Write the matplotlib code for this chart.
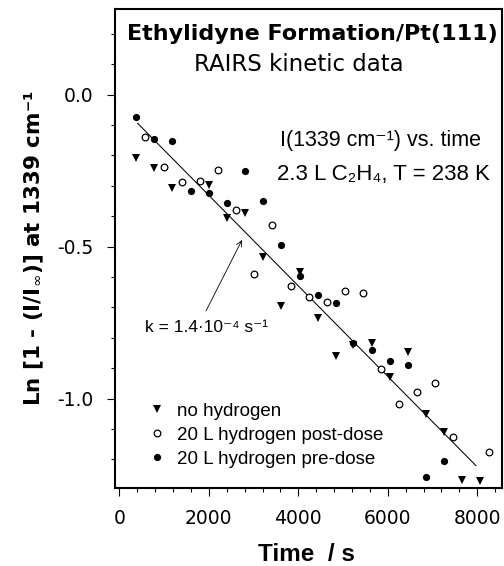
import numpy as np
import matplotlib
matplotlib.use("Agg")
import matplotlib.pyplot as plt

# data (time in s, Ln[1 - I/Iinf])
no_h_t = [366, 776, 1185, 1997, 2407, 2809, 3211, 3620, 4031, 4433,
          4836, 5229, 5640, 6042, 6445, 6847, 7249, 7665, 8067]
no_h_v = [-0.209, -0.242, -0.306, -0.297, -0.407, -0.390, -0.533, -0.694, -0.582, -0.736,
          -0.859, -0.823, -0.818, -0.930, -0.847, -1.050, -1.109, -1.267, -1.271]

post_t = [574, 992, 1394, 1803, 2206, 2615, 3010, 3419, 3830, 4239,
          4648, 5044, 5446, 5848, 6250, 6652, 7062, 7457, 8268]
post_v = [-0.139, -0.238, -0.288, -0.284, -0.249, -0.378, -0.590, -0.429, -0.629, -0.664,
          -0.683, -0.646, -0.652, -0.901, -1.018, -0.978, -0.948, -1.125, -1.175]

pre_t = [366, 776, 1185, 1595, 1997, 2407, 2809, 3211, 3620, 4031,
         4433, 4836, 5229, 5640, 6042, 6445, 6847, 7249]
pre_v = [-0.072, -0.146, -0.152, -0.317, -0.322, -0.356, -0.252, -0.349, -0.495, -0.596,
         -0.660, -0.684, -0.818, -0.840, -0.877, -0.890, -1.259, -1.206]

# linear fit shown in the figure
fit_slope = -1.49e-4
fit_intercept = -0.033
fit_range = [410, 7970]

W, H = 504, 566
ARIAL = ['Liberation Sans', 'DejaVu Sans']


def px(x, y):
    # pixel position -> figure fraction
    return x / W, 1 - y / H


fig = plt.figure(figsize=(W / 100, H / 100), dpi=100)
ax = fig.add_axes([114.7 / W, 1 - 488 / H, (502 - 114.7) / W, (488 - 9.3) / H])

ax.plot(no_h_t, no_h_v, 'v', color='k', ms=6, mew=0, label='no hydrogen', zorder=3)
ax.plot(post_t, post_v, 'o', mfc='white', mec='k', ms=4.8, mew=0.9,
        label='20 L hydrogen post-dose', zorder=3)
ax.plot(pre_t, pre_v, 'o', color='k', ms=5.2, mew=0, label='20 L hydrogen pre-dose', zorder=4)

tf = np.array(fit_range)
ax.plot(tf, fit_intercept + fit_slope * tf, 'k-', lw=0.75, zorder=2)

ax.annotate('', xy=(2742, -0.478), xytext=(1937, -0.7115),
            arrowprops=dict(arrowstyle='->', lw=0.6, color='k',
                            mutation_scale=10, shrinkA=0, shrinkB=0))

ax.set_xlim(-103, 8552)
ax.set_ylim(-1.294, 0.281)
ax.set_xticks([0, 2000, 4000, 6000, 8000])
ax.set_xticks(np.arange(0, 8500, 400), minor=True)
ax.set_yticks([-1.0, -0.5, 0.0])
ax.set_yticks(np.arange(-1.2, 0.25, 0.1), minor=True)
ax.set_yticklabels(['-1.0', '-0.5', '0.0'])

for s in ax.spines.values():
    s.set_linewidth(1.5)
ax.tick_params(which='both', direction='out', top=False, right=False,
               width=0.8, labelsize=13.5, pad=9.5)
ax.tick_params(which='major', length=5.5)
ax.tick_params(which='minor', length=3)

ax.set_xlabel('Time  / s', fontsize=17.5, fontweight='bold', family=ARIAL)
ax.xaxis.set_label_coords(0.496, -0.115)
ax.set_ylabel('Ln [1 - (I/I$_{\\infty}$)] at 1339 cm\u207b\u00b9', fontsize=15.5, fontweight='bold')
ax.yaxis.set_label_coords(-0.177, 0.5)

leg = ax.legend(loc='upper left', bbox_to_anchor=(0.088, 0.178), frameon=False,
                prop={'family': ARIAL, 'size': 13.5}, handlelength=0.9,
                handletextpad=0.6, labelspacing=0.36,
                borderpad=0, borderaxespad=0, numpoints=1)

fig.text(*px(312.5, 40), 'Ethylidyne Formation/Pt(111)', fontsize=16,
         fontweight='bold', ha='center', va='baseline')
fig.text(*px(299, 71), 'RAIRS kinetic data', fontsize=16.5, ha='center', va='baseline')
fig.text(*px(280, 146), 'I(1339 cm\u207b\u00b9) vs. time', fontsize=15.5, family=ARIAL,
         ha='left', va='baseline')
fig.text(*px(277, 180), '2.3 L C\u2082H\u2084, T = 238 K', fontsize=16, family=ARIAL,
         ha='left', va='baseline')
fig.text(*px(145, 331.7), 'k = 1.4\u00b710\u207b\u2074 s\u207b\u00b9', fontsize=12.5,
         family=ARIAL, ha='left', va='baseline')

fig.savefig('out.png', dpi=100)
